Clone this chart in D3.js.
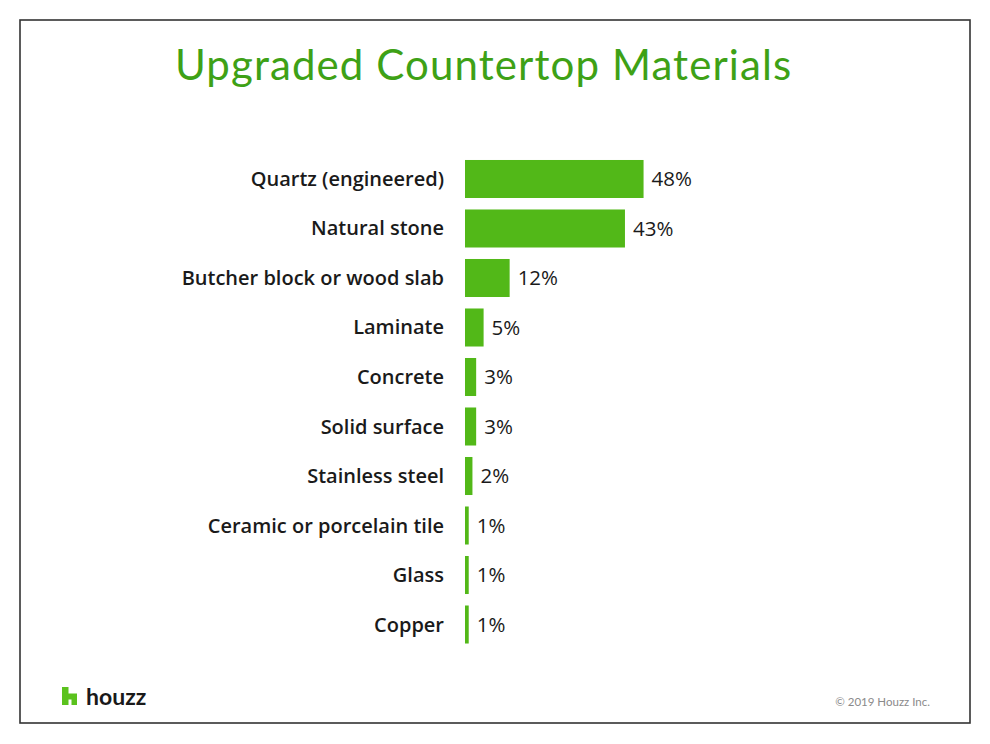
<!DOCTYPE html>
<html>
<head>
<meta charset="utf-8">
<script src="https://cdn.jsdelivr.net/npm/d3@7"></script>
<style>
  html, body { margin: 0; padding: 0; background: #fff; }
  svg { display: block; }
</style>
</head>
<body>
<div id="chart"></div>
<script>
const categories = [
  'Quartz (engineered)',
  'Natural stone',
  'Butcher block or wood slab',
  'Laminate',
  'Concrete',
  'Solid surface',
  'Stainless steel',
  'Ceramic or porcelain tile',
  'Glass',
  'Copper'
];
const values = [48, 43, 12, 5, 3, 3, 2, 1, 1, 1];
const title = 'Upgraded Countertop Materials';
const footer = '\u00a9 2019 Houzz Inc.';

const W = 990, H = 744;
const green = '#52b818';
const titleGreen = '#3ea116';

let svg = d3.select('#chart').append('svg')
    .attr('width', W)
    .attr('height', H);

// frame
svg.append('rect')
    .attr('x', 20).attr('y', 20)
    .attr('width', 950).attr('height', 703)
    .attr('fill', '#fff')
    .attr('stroke', '#333')
    .attr('stroke-width', 1.6);

svg.append('text')
    .attr('x', 175).attr('y', 80)
    .attr('fill', titleGreen)
    .style('font-family', 'Lato, sans-serif')
    .style('font-size', '42px')
    .style('font-weight', 400)
    .style('letter-spacing', '1.1px')
    .text(title);

let x = d3.scaleLinear().domain([0, 50]).range([465, 651]);
let y = d3.scaleBand().domain(categories).range([148.5, 655]).padding(0.232);

let rows = svg.append('g').selectAll('g')
    .data(categories.map((c, i) => ({c, v: values[i]})))
    .join('g');

rows.append('rect')
    .attr('x', x(0))
    .attr('y', d => y(d.c))
    .attr('width', d => x(d.v) - x(0))
    .attr('height', y.bandwidth())
    .attr('fill', green);

rows.append('text')
    .attr('x', 444)
    .attr('y', d => y(d.c) + y.bandwidth() / 2)
    .attr('dy', '0.35em')
    .attr('text-anchor', 'end')
    .attr('fill', '#1a1a1a')
    .style('font-family', '"Open Sans", sans-serif')
    .style('font-size', '20px')
    .style('font-weight', 600)
    .text(d => d.c);

rows.append('text')
    .attr('x', d => x(d.v) + 8)
    .attr('y', d => y(d.c) + y.bandwidth() / 2)
    .attr('dy', '0.35em')
    .attr('fill', '#1a1a1a')
    .style('font-family', '"Open Sans", sans-serif')
    .style('font-size', '20.5px')
    .style('font-weight', 400)
    .text(d => d.v + '%');

// houzz logo
svg.append('path')
    .attr('d', 'M62,687 H68.5 V693.5 H77 V705 H71.5 V699.5 H68.5 V705 H62 Z')
    .attr('fill', '#5bc21e');
svg.append('text')
    .attr('x', 86).attr('y', 705)
    .attr('fill', '#1a1a1a')
    .style('font-family', 'Lato, sans-serif')
    .style('font-size', '23px')
    .style('font-weight', 700)
    .text('houzz');

svg.append('text')
    .attr('x', 930).attr('y', 706)
    .attr('text-anchor', 'end')
    .attr('fill', '#8a8a8a')
    .style('font-family', 'Lato, sans-serif')
    .style('font-size', '11.5px')
    .text(footer);
</script>
</body>
</html>
